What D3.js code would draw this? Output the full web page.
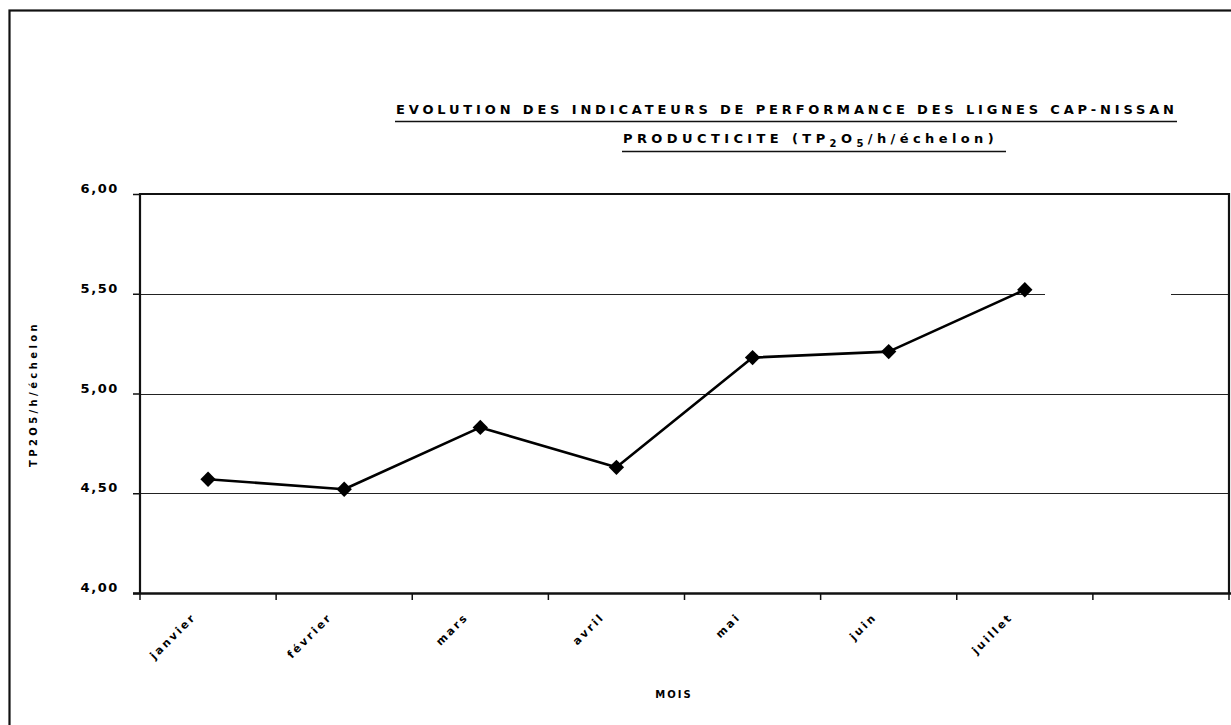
<!DOCTYPE html>
<html>
<head>
<meta charset="utf-8">
<script src="https://cdn.jsdelivr.net/npm/d3@7"></script>
<style>
  html, body { margin: 0; padding: 0; background: #fff; }
  svg { display: block; }
  text { font-family: "DejaVu Sans", sans-serif; fill: #000; }
</style>
</head>
<body>
<svg id="chart" width="1231" height="725"></svg>
<script>
// ---- data ----
const categories = ["janvier", "février", "mars", "avril", "mai", "juin", "juillet", ""];
const values = [4.57, 4.52, 4.83, 4.63, 5.18, 5.21, 5.52];
const yTicks = [4.0, 4.5, 5.0, 5.5, 6.0];
const yTickLabels = ["4,00", "4,50", "5,00", "5,50", "6,00"];
const titleLine1 = "EVOLUTION DES INDICATEURS DE PERFORMANCE DES LIGNES CAP-NISSAN";
const titleLine2Parts = [
  { t: "PRODUCTICITE (TP", sub: false },
  { t: "2", sub: true },
  { t: "O", sub: false },
  { t: "5", sub: true },
  { t: "/h/échelon)", sub: false }
];
const yAxisTitle = "TP2O5/h/échelon";
const xAxisTitle = "MOIS";

// ---- layout ----
const svg = d3.select("#chart");
const plot = { left: 140, right: 1229, top: 194, bottom: 593 };

const x = d3.scaleBand().domain(categories.map((c, i) => i)).range([plot.left, plot.right]).padding(0);
const y = d3.scaleLinear().domain([4, 6]).range([plot.bottom, plot.top]);

// outer chart frame
svg.append("rect")
  .attr("x", 9.5).attr("y", 10.5).attr("width", 1260).attr("height", 760)
  .attr("fill", "none").attr("stroke", "#111").attr("stroke-width", 2.2);

// gridlines
svg.append("g")
  .selectAll("line")
  .data(yTicks.filter(v => v > 4 && v < 6))
  .join("line")
  .attr("x1", plot.left).attr("x2", plot.right)
  .attr("y1", d => Math.round(y(d)) + 0.5).attr("y2", d => Math.round(y(d)) + 0.5)
  .attr("stroke", "#222").attr("stroke-width", 1.2);

// empty legend area (interrupts 5,50 gridline)
svg.append("rect")
  .attr("x", 1045).attr("y", 283).attr("width", 126).attr("height", 20)
  .attr("fill", "#fff");

// plot border (top, left, right)
svg.append("path")
  .attr("d", `M${plot.left},${plot.bottom} V${plot.top} H${plot.right} V${plot.bottom}`)
  .attr("fill", "none").attr("stroke", "#111").attr("stroke-width", 2.2);

// y axis
const yAxis = svg.append("g")
  .attr("transform", `translate(${plot.left},0)`)
  .call(d3.axisLeft(y).tickValues(yTicks).tickSize(7)
        .tickFormat((d, i) => yTickLabels[i]));
yAxis.select(".domain").remove();
yAxis.selectAll(".tick line").attr("stroke", "#111").attr("stroke-width", 1.5);
yAxis.selectAll(".tick text")
  .attr("x", -21).attr("dy", "-0.1em")
  .style("font-size", "13px").style("font-weight", "bold")
  .style("letter-spacing", "1.6px").style("font-family", "\"DejaVu Sans\", sans-serif");

// x axis
const xAxis = svg.append("g")
  .attr("transform", `translate(0,${plot.bottom})`)
  .call(d3.axisBottom(x).tickSize(0).tickFormat((d) => categories[d]));
xAxis.select(".domain").remove();
svg.append("line")
  .attr("x1", 133).attr("x2", 1231).attr("y1", plot.bottom + 0.5).attr("y2", plot.bottom + 0.5)
  .attr("stroke", "#111").attr("stroke-width", 2.6);
// category boundary ticks
svg.append("g").selectAll("line")
  .data(d3.range(categories.length + 1))
  .join("line")
  .attr("x1", i => plot.left + i * x.step()).attr("x2", i => plot.left + i * x.step())
  .attr("y1", plot.bottom).attr("y2", plot.bottom + 7)
  .attr("stroke", "#111").attr("stroke-width", 1.5);
xAxis.selectAll(".tick text")
  .attr("text-anchor", "end")
  .attr("transform", "translate(-14,22) rotate(-45)")
  .attr("dy", "0.35em").attr("y", 0)
  .style("font-size", "11px").style("font-weight", "bold")
  .style("letter-spacing", "2.4px").style("font-family", "\"DejaVu Sans\", sans-serif");

// axis titles
svg.append("text")
  .attr("transform", "translate(37,394) rotate(-90)")
  .attr("text-anchor", "middle")
  .style("font-size", "10px").style("font-weight", "bold").style("letter-spacing", "3.4px")
  .text(yAxisTitle);
svg.append("text")
  .attr("x", 674).attr("y", 698)
  .attr("text-anchor", "middle")
  .style("font-size", "10px").style("font-weight", "bold").style("letter-spacing", "2px")
  .text(xAxisTitle);

// title
svg.append("text")
  .attr("x", 396).attr("y", 114)
  .attr("textLength", 778).attr("lengthAdjust", "spacing")
  .style("font-size", "13px").style("font-weight", "bold")
  .text(titleLine1);
svg.append("line").attr("x1", 395).attr("x2", 1177).attr("y1", 121.5).attr("y2", 121.5)
  .attr("stroke", "#111").attr("stroke-width", 1.4);

const t2 = svg.append("text")
  .attr("x", 623).attr("y", 143)
  .style("font-size", "13px").style("font-weight", "bold").style("letter-spacing", "4.4px");
let shifted = false;
titleLine2Parts.forEach(p => {
  const ts = t2.append("tspan").text(p.t);
  if (p.sub) { ts.attr("dy", 4).style("font-size", "10px"); shifted = true; }
  else if (shifted) { ts.attr("dy", -4); shifted = false; }
});
svg.append("line").attr("x1", 622).attr("x2", 1006).attr("y1", 151.5).attr("y2", 151.5)
  .attr("stroke", "#111").attr("stroke-width", 1.4);

// series line
const cx = (d, i) => x(i) + x.bandwidth() / 2;
svg.append("path")
  .datum(values)
  .attr("fill", "none").attr("stroke", "#000").attr("stroke-width", 2.6)
  .attr("stroke-linejoin", "round")
  .attr("d", d3.line().x(cx).y(d => y(d)));

// diamond markers
svg.append("g").selectAll("path")
  .data(values)
  .join("path")
  .attr("transform", (d, i) => `translate(${cx(d, i)},${y(d)})`)
  .attr("d", d3.symbol(d3.symbolDiamond2, 150))
  .attr("fill", "#000");
</script>
</body>
</html>
